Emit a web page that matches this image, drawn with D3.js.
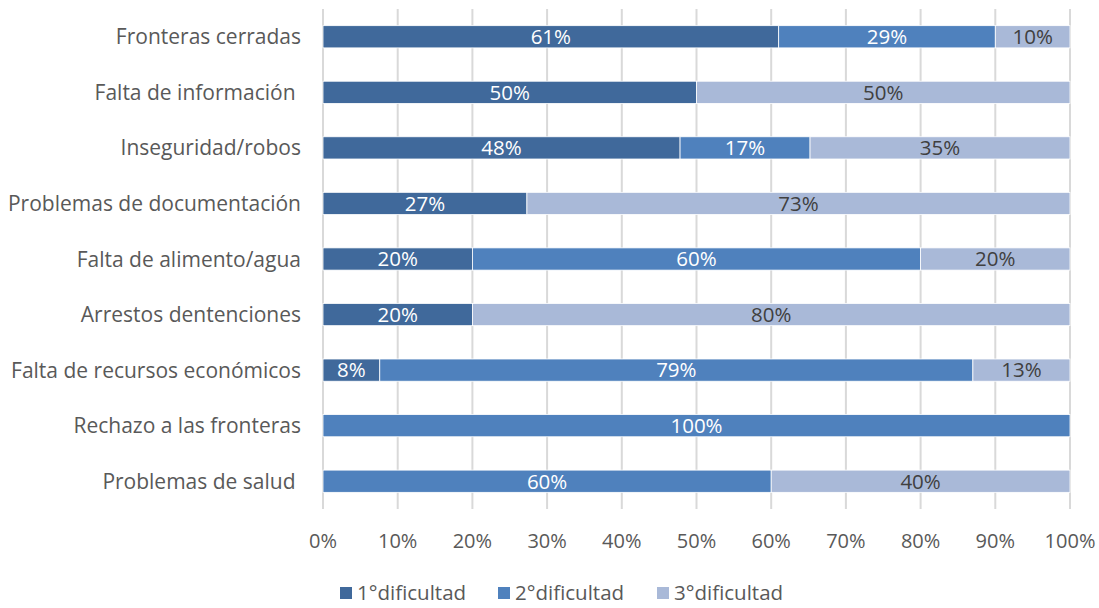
<!DOCTYPE html>
<html>
<head>
<meta charset="utf-8">
<script src="https://cdn.jsdelivr.net/npm/d3@7"></script>
<style>
  body { margin: 0; background: #fff; }
  text { font-family: "Open Sans", "Noto Sans", sans-serif; }
</style>
</head>
<body>
<svg id="chart" width="1099" height="608"></svg>
<script>
// Data
var categories = ["Fronteras cerradas", "Falta de información ", "Inseguridad/robos",
                  "Problemas de documentación", "Falta de alimento/agua", "Arrestos dentenciones",
                  "Falta de recursos económicos", "Rechazo a las fronteras", "Problemas de salud "];
var seriesNames = ["1°dificultad", "2°dificultad", "3°dificultad"];
var dif1 = [61, 50, 47.8, 27.3, 20, 20, 7.6, 0, 0];
var dif2 = [29, 0, 17.4, 0, 60, 0, 79.4, 100, 60];
var dif3 = [10, 50, 34.8, 72.7, 20, 80, 13.0, 0, 40];
var tickValues = [0, 10, 20, 30, 40, 50, 60, 70, 80, 90, 100];

// Colors
var colors = ["#40699b", "#4f81bd", "#a9b9d8"];
var labelColors = ["#ffffff", "#ffffff", "#404040"];

var svg = d3.select("#chart");
var dim = { left: 323, right: 1070, top: 9, bottom: 509 };

var xScale = d3.scaleLinear().domain([0, 100]).range([dim.left, dim.right]);
var yScale = d3.scaleBand().domain(categories).range([dim.top, dim.bottom]).paddingInner(0.6).paddingOuter(0.3);

// build stacked table
var table = categories.map(function(c, i) {
  return { cat: c, d0: dif1[i], d1: dif2[i], d2: dif3[i] };
});
var stack = d3.stack().keys(["d0", "d1", "d2"]);
var layers = stack(table);

// Gridlines
svg.append("g")
   .selectAll("line")
   .data(tickValues)
   .enter()
   .append("line")
   .attr("x1", function(d) { return xScale(d); })
   .attr("x2", function(d) { return xScale(d); })
   .attr("y1", dim.top)
   .attr("y2", dim.bottom)
   .attr("stroke", "#d9d9d9")
   .attr("stroke-width", 2);

// Bars
var groups = svg.append("g")
   .selectAll("g")
   .data(layers)
   .enter()
   .append("g")
   .attr("fill", function(d, i) { return colors[i]; });

groups.selectAll("rect")
   .data(function(d) { return d.filter(function(s) { return s[1] - s[0] > 0; }); })
   .enter()
   .append("rect")
   .attr("x", function(d) { return xScale(d[0]); })
   .attr("width", function(d) { return xScale(d[1]) - xScale(d[0]); })
   .attr("y", function(d) { return yScale(d.data.cat); })
   .attr("height", yScale.bandwidth())
   .attr("stroke", "#ffffff")
   .attr("stroke-width", 0.8);

// Value labels
layers.forEach(function(layer, i) {
  svg.append("g")
     .selectAll("text")
     .data(layer.filter(function(s) { return s[1] - s[0] > 0; }))
     .enter()
     .append("text")
     .attr("x", function(d) { return (xScale(d[0]) + xScale(d[1])) / 2; })
     .attr("y", function(d) { return yScale(d.data.cat) + yScale.bandwidth() / 2; })
     .attr("dy", "0.36em")
     .attr("text-anchor", "middle")
     .attr("fill", labelColors[i])
     .style("font-size", "20.5px")
     .text(function(d) { return Math.round(d[1] - d[0]) + "%"; });
});

// Category labels
svg.append("g")
   .selectAll("text")
   .data(categories)
   .enter()
   .append("text")
   .attr("x", 301)
   .attr("y", function(d) { return yScale(d) + yScale.bandwidth() / 2; })
   .attr("dy", "0.36em")
   .attr("text-anchor", "end")
   .attr("fill", "#595959")
   .style("font-size", "21px")
   .style("white-space", "pre")
   .text(function(d) { return d; });

// X axis labels
svg.append("g")
   .selectAll("text")
   .data(tickValues)
   .enter()
   .append("text")
   .attr("x", function(d) { return xScale(d); })
   .attr("y", 541)
   .attr("dy", "0.36em")
   .attr("text-anchor", "middle")
   .attr("fill", "#595959")
   .style("font-size", "20px")
   .text(function(d) { return d + "%"; });

// Legend
var legendX = [340, 498, 657];
var legend = svg.append("g")
   .selectAll("g")
   .data(seriesNames)
   .enter()
   .append("g")
   .attr("transform", function(d, i) { return "translate(" + legendX[i] + ",593)"; });
legend.append("rect")
   .attr("x", 0).attr("y", -6)
   .attr("width", 12).attr("height", 12)
   .attr("fill", function(d, i) { return colors[i]; });
legend.append("text")
   .attr("x", 17)
   .attr("dy", "0.36em")
   .attr("fill", "#595959")
   .style("font-size", "20.5px")
   .text(function(d) { return d; });
</script>
</body>
</html>
